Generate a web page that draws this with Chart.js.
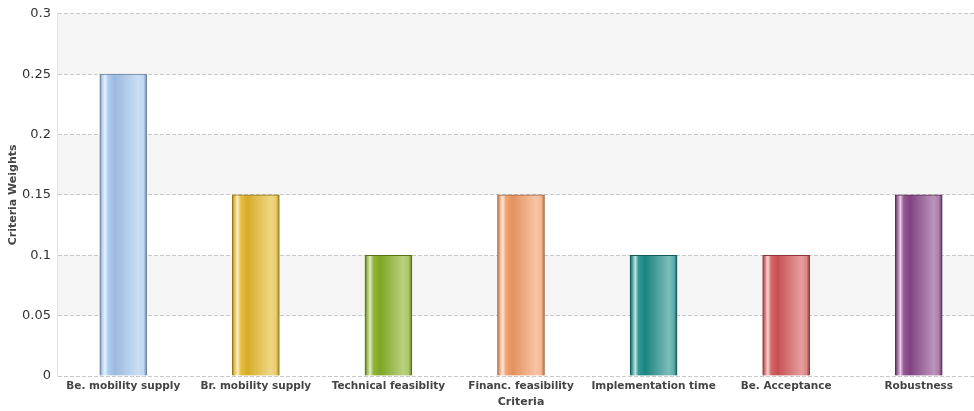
<!DOCTYPE html>
<html>
<head>
<meta charset="utf-8">
<script src="https://cdn.jsdelivr.net/npm/chart.js@4.4.1/dist/chart.umd.min.js"></script>
<style>
  html, body { margin: 0; padding: 0; background: #fff; overflow: hidden; }
  #wrap { width: 985px; height: 411px; position: relative; }
</style>
</head>
<body>
<div id="wrap"><canvas id="c"></canvas></div>
<script>
// Criteria and their weights
const categories = [
  'Be. mobility supply',
  'Br. mobility supply',
  'Technical feasiblity',
  'Financ. feasibility',
  'Implementation time',
  'Be. Acceptance',
  'Robustness'
];
const weights = [0.25, 0.15, 0.10, 0.15, 0.10, 0.10, 0.15];
const yTicks = [0, 0.05, 0.1, 0.15, 0.2, 0.25, 0.3];

// Base colour of each bar
const barColors = ['#a4c6ec', '#e4b82c', '#86b024', '#f29a64', '#1c8c88', '#d25656', '#8a4689'];
const BAR_W = 47;

function hexToRgb(h) {
  const n = parseInt(h.slice(1), 16);
  return [(n >> 16) & 255, (n >> 8) & 255, n & 255];
}
function mix(h, target, t) {
  const c = hexToRgb(h), o = target === 'w' ? [255, 255, 255] : [0, 0, 0];
  return 'rgb(' + c.map((v, i) => Math.round(v + (o[i] - v) * t)).join(',') + ')';
}

// Cylinder-like horizontal shading for each bar
function barFill(ctx) {
  const chart = ctx.chart;
  const base = barColors[ctx.dataIndex];
  const xs = chart.scales && chart.scales.x;
  if (!chart.chartArea || !xs) return base;
  const cx = xs.getPixelForValue(ctx.dataIndex);
  if (!isFinite(cx)) return base;
  const x0 = cx - BAR_W / 2, x1 = cx + BAR_W / 2;
  const g = chart.ctx.createLinearGradient(x0, 0, x1, 0);
  g.addColorStop(0.00, mix(base, 'b', 0.30));
  g.addColorStop(0.05, mix(base, 'w', 0.20));
  g.addColorStop(0.11, mix(base, 'w', 0.75));
  g.addColorStop(0.18, mix(base, 'w', 0.10));
  g.addColorStop(0.32, mix(base, 'b', 0.06));
  g.addColorStop(0.82, mix(base, 'w', 0.42));
  g.addColorStop(0.93, mix(base, 'w', 0.30));
  g.addColorStop(1.00, mix(base, 'b', 0.30));
  return g;
}

// Alternating horizontal bands behind the plot
const bandsPlugin = {
  id: 'bands',
  beforeDraw(chart) {
    const { ctx, chartArea: a, scales: { y } } = chart;
    ctx.save();
    for (let i = 0; i < yTicks.length - 1; i++) {
      const top = y.getPixelForValue(yTicks[i + 1]);
      const bot = y.getPixelForValue(yTicks[i]);
      ctx.fillStyle = (yTicks.length - 2 - i) % 2 === 0 ? '#f5f5f5' : '#ffffff';
      ctx.fillRect(a.left, top, a.right - a.left, bot - top);
    }
    ctx.restore();
  }
};

new Chart(document.getElementById('c'), {
  type: 'bar',
  data: {
    labels: categories,
    datasets: [{
      data: weights,
      backgroundColor: barFill,
      borderColor: barColors.map(c => mix(c, 'b', 0.35)),
      borderWidth: 1,
      barThickness: BAR_W
    }]
  },
  options: {
    responsive: true,
    maintainAspectRatio: false,
    animation: false,
    layout: { padding: { top: 9, right: 0, left: 8, bottom: 1 } },
    plugins: { legend: { display: false }, tooltip: { enabled: false } },
    scales: {
      x: {
        afterFit(scale) { scale.height = 34; },
        grid: { display: false, drawTicks: false },
        border: { display: false },
        ticks: {
          color: '#444',
          padding: 5,
          font: { family: 'DejaVu Sans', size: 10.5, weight: 'bold', lineHeight: 1 },
          maxRotation: 0, autoSkip: false
        },
        title: {
          display: true, text: 'Criteria', color: '#444',
          font: { family: 'DejaVu Sans', size: 11, weight: 'bold', lineHeight: 1 },
          padding: { top: 0, bottom: 2 }
        }
      },
      y: {
        min: 0, max: 0.3,
        afterFit(scale) { scale.width = 49; },
        afterBuildTicks(scale) { scale.ticks = yTicks.map(v => ({ value: v })); },
        grid: { color: '#c8c8c8', drawTicks: false },
        border: { display: true, color: '#e4e4e4', dash: [4, 2] },
        ticks: {
          color: '#333',
          padding: 6,
          font: { family: 'DejaVu Sans', size: 13 },
          callback: v => String(+v.toFixed(2))
        },
        title: {
          display: true, text: 'Criteria Weights', color: '#444',
          font: { family: 'DejaVu Sans', size: 11, weight: 'bold', lineHeight: 1 },
          padding: { top: 0, bottom: 2 }
        }
      }
    }
  },
  plugins: [bandsPlugin]
});
</script>
</body>
</html>
